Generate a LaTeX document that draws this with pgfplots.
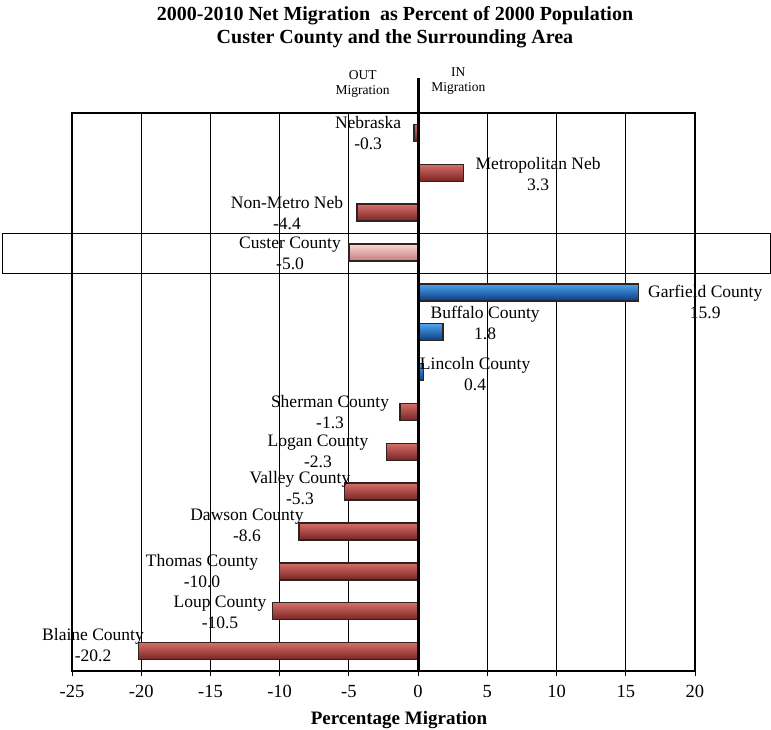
\documentclass[border=0pt]{standalone}
\usepackage{pgfplots}
\pgfplotsset{compat=1.18}
\usepackage{fontspec}
\setmainfont{Liberation Serif}
\definecolor{rtop}{RGB}{215,110,105}
\definecolor{rmid}{RGB}{195,80,76}
\definecolor{rbot}{RGB}{120,36,34}
\definecolor{ptop}{RGB}{250,215,212}
\definecolor{pmid}{RGB}{238,175,172}
\definecolor{pbot}{RGB}{195,125,123}
\definecolor{btop}{RGB}{75,165,238}
\definecolor{bmid}{RGB}{20,115,205}
\definecolor{bbot}{RGB}{10,58,130}
\definecolor{bord}{RGB}{45,35,35}
\newcommand{\lab}{\fontsize{17.5}{21}\selectfont}
\pgfplotsset{
  redbar/.style={xbar, draw=bord, line width=1.4pt, top color=rtop, middle color=rmid, bottom color=rbot},
  pinkbar/.style={xbar, draw=bord, line width=1.4pt, top color=ptop, middle color=pmid, bottom color=pbot},
  bluebar/.style={xbar, draw=bord, line width=1.4pt, top color=btop, middle color=bmid, bottom color=bbot},
}
\begin{document}
\begin{tikzpicture}
\useasboundingbox (-72pt,-59pt) rectangle (699pt,671pt);
\begin{axis}[
  at={(0pt,0pt)}, anchor=south west,
  scale only axis, width=623pt, height=558pt,
  xmin=-25, xmax=20, ymin=0.5, ymax=14.5, y dir=reverse,
  xtick={-25,-20,...,20}, ytick=\empty,
  xtick pos=bottom, tick align=outside, major tick length=5pt,
  xmajorgrids, grid style={black, line width=0.9pt},
  axis line style={black, line width=1.1pt},
  tick style={black, line width=0.9pt},
  xticklabel style={font=\fontsize{18.5}{20}\selectfont, yshift=-6pt},
  /pgf/number format/assume math mode=true,
  xbar, bar width=17pt, bar shift=0pt,
  clip=false,
]
\addplot[redbar] coordinates {(-0.3,1)};
\addplot[redbar] coordinates {(3.3,2)};
\addplot[redbar] coordinates {(-4.4,3)};
\addplot[pinkbar] coordinates {(-5.0,4)};
\addplot[bluebar] coordinates {(15.9,5)};
\addplot[bluebar] coordinates {(1.8,6)};
\addplot[bluebar] coordinates {(0.4,7)};
\addplot[redbar] coordinates {(-1.3,8)};
\addplot[redbar] coordinates {(-2.3,9)};
\addplot[redbar] coordinates {(-5.3,10)};
\addplot[redbar] coordinates {(-8.6,11)};
\addplot[redbar] coordinates {(-10.0,12)};
\addplot[redbar] coordinates {(-10.5,13)};
\addplot[redbar] coordinates {(-20.2,14)};
\draw[black, line width=1.1pt] (axis cs:-29.99,3.53) rectangle (axis cs:25.43,4.53);
\draw[black, line width=3pt] (axis cs:0,-0.38) -- (axis cs:0,14.5);
\begin{scope}[every node/.style={align=center, font=\lab, inner sep=0pt}]
\node at (axis cs:-3.61,1.00) {Nebraska\\-0.3};
\node at (axis cs:8.67,2.02) {Metropolitan Neb\\3.3};
\node at (axis cs:-9.47,3.02) {Non-Metro Neb\\-4.4};
\node at (axis cs:-9.25,4.02) {Custer County\\-5.0};
\node at (axis cs:20.74,5.24) {Garfield County\\15.9};
\node at (axis cs:4.84,5.76) {Buffalo County\\1.8};
\node at (axis cs:4.12,7.04) {Lincoln County\\0.4};
\node at (axis cs:-6.36,8.01) {Sherman County\\-1.3};
\node at (axis cs:-7.23,8.99) {Logan County\\-2.3};
\node at (axis cs:-8.53,9.90) {Valley County\\-5.3};
\node at (axis cs:-12.36,10.85) {Dawson County\\-8.6};
\node at (axis cs:-15.61,11.99) {Thomas County\\-10.0};
\node at (axis cs:-14.31,13.03) {Loup County\\-10.5};
\node at (axis cs:-23.48,13.86) {Blaine County\\-20.2};
\end{scope}
\node[align=center, font=\fontsize{13.5}{15}\selectfont, inner sep=0pt] at (axis cs:-4.0,-0.22) {OUT\\Migration};
\node[align=center, font=\fontsize{13.5}{15}\selectfont, inner sep=0pt] at (axis cs:2.9,-0.30) {IN\\Migration};
\end{axis}
\node[align=center, font=\fontsize{20}{23}\selectfont\bfseries, inner sep=0pt] at (323pt,643.5pt) {2000-2010 Net Migration \ as Percent of 2000 Population\\Custer County and the Surrounding Area};
\node[font=\fontsize{19}{21}\selectfont\bfseries, inner sep=0pt] at (327pt,-49pt) {Percentage Migration};
\end{tikzpicture}
\end{document}
